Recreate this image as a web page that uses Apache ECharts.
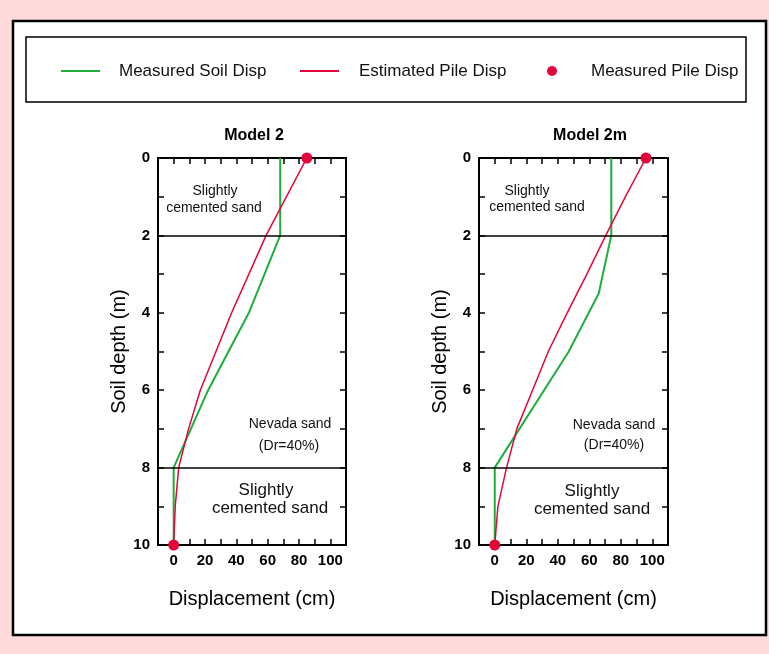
<!DOCTYPE html>
<html>
<head>
<meta charset="utf-8">
<script src="https://cdn.jsdelivr.net/npm/echarts@6/dist/echarts.min.js"></script>
<style>
html,body{margin:0;padding:0;background:#FFDADA;}
#chart{width:769px;height:654px;}
</style>
</head>
<body>
<div id="chart"></div>
<script>
// ---- data ----
var depthSoilLeft = [0, 2, 4, 6, 8, 10];
var soilLeft      = [68, 68, 48, 22, 0, 0];
var depthPile     = [0, 1, 2, 3, 4, 5, 6, 7, 8, 9, 10];
var pileLeft      = [85, 72, 59, 48, 37, 27, 17, 9.5, 3.2, 1, 0];
var depthSoilRight = [0, 2, 3.5, 5, 8, 10];
var soilRight      = [74, 74, 66, 47, 0, 0];
var pileRight      = [96, 83, 70.5, 58.5, 46, 34, 24, 14, 7.5, 2, 0];
var measuredDepth  = [0, 10];
var measuredLeft   = [85, 0];
var measuredRight  = [96, 0];
var layerBounds    = [2, 8];
var titles = ['Model 2', 'Model 2m'];

function pairs(xs, ys) { return xs.map(function (v, i) { return [v, ys[i]]; }); }

var FONT = 'Liberation Sans, Arial, Helvetica, sans-serif';
var GREEN = '#1fae3c';
var RED = '#e2063a';

function xAxes(gi) {
  return [{
    gridIndex: gi, type: 'value', min: -10, max: 110, interval: 10, position: 'bottom',
    name: 'Displacement (cm)', nameLocation: 'middle', nameGap: 44,
    nameTextStyle: { fontSize: 20, color: '#000', fontFamily: FONT },
    axisLine: { show: true, onZero: false, lineStyle: { color: '#000', width: 2 } },
    axisTick: { show: true, inside: true, length: 6, lineStyle: { color: '#000', width: 1.5 } },
    axisLabel: { show: true, margin: 8, fontSize: 15, fontWeight: 'bold', color: '#000', fontFamily: FONT,
      formatter: function (v) { return (v >= 0 && v <= 100 && v % 20 === 0) ? String(v) : ''; } },
    splitLine: { show: false }
  }, {
    gridIndex: gi, type: 'value', min: -10, max: 110, interval: 10, position: 'top',
    axisLine: { show: true, onZero: false, lineStyle: { color: '#000', width: 2 } },
    axisTick: { show: true, inside: true, length: 6, lineStyle: { color: '#000', width: 1.5 } },
    axisLabel: { show: false }, splitLine: { show: false }
  }];
}
function yAxes(gi) {
  return [{
    gridIndex: gi, type: 'value', min: 0, max: 10, interval: 1, inverse: true, position: 'left',
    name: 'Soil depth (m)', nameLocation: 'middle', nameGap: 26, nameRotate: 90,
    nameTextStyle: { fontSize: 20, color: '#000', fontFamily: FONT },
    axisLine: { show: true, onZero: false, lineStyle: { color: '#000', width: 2 } },
    axisTick: { show: true, inside: true, length: 6, lineStyle: { color: '#000', width: 1.5 } },
    axisLabel: { show: true, margin: 8, fontSize: 15, fontWeight: 'bold', color: '#000', fontFamily: FONT,
      formatter: function (v) { return v % 2 === 0 ? String(v) : ''; } },
    splitLine: { show: false }
  }, {
    gridIndex: gi, type: 'value', min: 0, max: 10, interval: 1, inverse: true, position: 'right',
    axisLine: { show: true, onZero: false, lineStyle: { color: '#000', width: 2 } },
    axisTick: { show: true, inside: true, length: 6, lineStyle: { color: '#000', width: 1.5 } },
    axisLabel: { show: false }, splitLine: { show: false }
  }];
}

function seriesFor(gi, soilX, soilD, pileX, measX) {
  var xi = gi * 2, yi = gi * 2;
  return [{
    name: 'Measured Soil Disp', type: 'line', xAxisIndex: xi, yAxisIndex: yi,
    data: pairs(soilX, soilD), showSymbol: false, symbol: 'none',
    lineStyle: { color: GREEN, width: 2 }, itemStyle: { color: GREEN }, z: 3,
    markLine: {
      silent: true, symbol: 'none', label: { show: false },
      lineStyle: { color: '#000', width: 1.5, type: 'solid' },
      data: layerBounds.map(function (d) { return { yAxis: d }; })
    }
  }, {
    name: 'Estimated Pile Disp', type: 'line', xAxisIndex: xi, yAxisIndex: yi,
    data: pairs(pileX, depthPile), showSymbol: false, symbol: 'none',
    lineStyle: { color: RED, width: 1.5 }, itemStyle: { color: RED }, z: 4
  }, {
    name: 'Measured Pile Disp', type: 'scatter', xAxisIndex: xi, yAxisIndex: yi,
    data: pairs(measX, measuredDepth), symbol: 'circle', symbolSize: 11,
    itemStyle: { color: RED, opacity: 1 }, z: 5
  }];
}

function txt(x, y, s, size) {
  return { type: 'text', x: x, y: y, z: 10,
    style: { text: s, fontSize: size, fontFamily: FONT, fill: '#111', textAlign: 'center', textVerticalAlign: 'middle' } };
}

var option = {
  backgroundColor: '#FFDADA',
  animation: false,
  title: [
    { text: titles[0], left: 249, top: 123, textAlign: 'center',
      textStyle: { fontSize: 16, fontWeight: 'bold', color: '#000', fontFamily: FONT } },
    { text: titles[1], left: 585, top: 123, textAlign: 'center',
      textStyle: { fontSize: 16, fontWeight: 'bold', color: '#000', fontFamily: FONT } }
  ],
  legend: [
    { left: 61, top: 61, padding: 0, itemWidth: 39, itemHeight: 2,
      data: [{ name: 'Measured Soil Disp', icon: 'rect', itemStyle: { color: GREEN } }],
      textStyle: { fontSize: 17, color: '#111', fontFamily: FONT, padding: [0, 0, 0, 14], lineHeight: 20 } },
    { left: 300, top: 61, padding: 0, itemWidth: 39, itemHeight: 2,
      data: [{ name: 'Estimated Pile Disp', icon: 'rect', itemStyle: { color: RED } }],
      textStyle: { fontSize: 17, color: '#111', fontFamily: FONT, padding: [0, 0, 0, 15], lineHeight: 20 } },
    { left: 547, top: 61, padding: 0, itemWidth: 10, itemHeight: 10,
      data: [{ name: 'Measured Pile Disp', icon: 'circle', itemStyle: { color: RED, opacity: 1 } }],
      textStyle: { fontSize: 17, color: '#111', fontFamily: FONT, padding: [0, 0, 0, 29], lineHeight: 20 } }
  ],
  grid: [
    { left: 158, top: 158, width: 188, height: 387 },
    { left: 479, top: 158, width: 189, height: 387 }
  ],
  xAxis: xAxes(0).concat(xAxes(1)),
  yAxis: yAxes(0).concat(yAxes(1)),
  series: seriesFor(0, soilLeft, depthSoilLeft, pileLeft, measuredLeft)
    .concat(seriesFor(1, soilRight, depthSoilRight, pileRight, measuredRight)),
  graphic: [
    { type: 'rect', z: -100, shape: { x: 13, y: 21, width: 753, height: 614 },
      style: { fill: '#fff', stroke: '#000', lineWidth: 2.5 } },
    { type: 'rect', z: -90, shape: { x: 26, y: 37, width: 720, height: 65 },
      style: { fill: 'none', stroke: '#000', lineWidth: 1.5 } },
    txt(215, 191, 'Slightly', 14),
    txt(214, 208, 'cemented sand', 14),
    txt(290, 424, 'Nevada sand', 14),
    txt(289, 446, '(Dr=40%)', 14),
    txt(266, 490, 'Slightly', 17),
    txt(270, 508, 'cemented sand', 17),
    txt(527, 191, 'Slightly', 14),
    txt(537, 207, 'cemented sand', 14),
    txt(614, 425, 'Nevada sand', 14),
    txt(614, 445, '(Dr=40%)', 14),
    txt(592, 491, 'Slightly', 17),
    txt(592, 509, 'cemented sand', 17)
  ]
};

var chart = echarts.init(document.getElementById('chart'), null, { renderer: 'canvas' });
chart.setOption(option);
</script>
</body>
</html>
